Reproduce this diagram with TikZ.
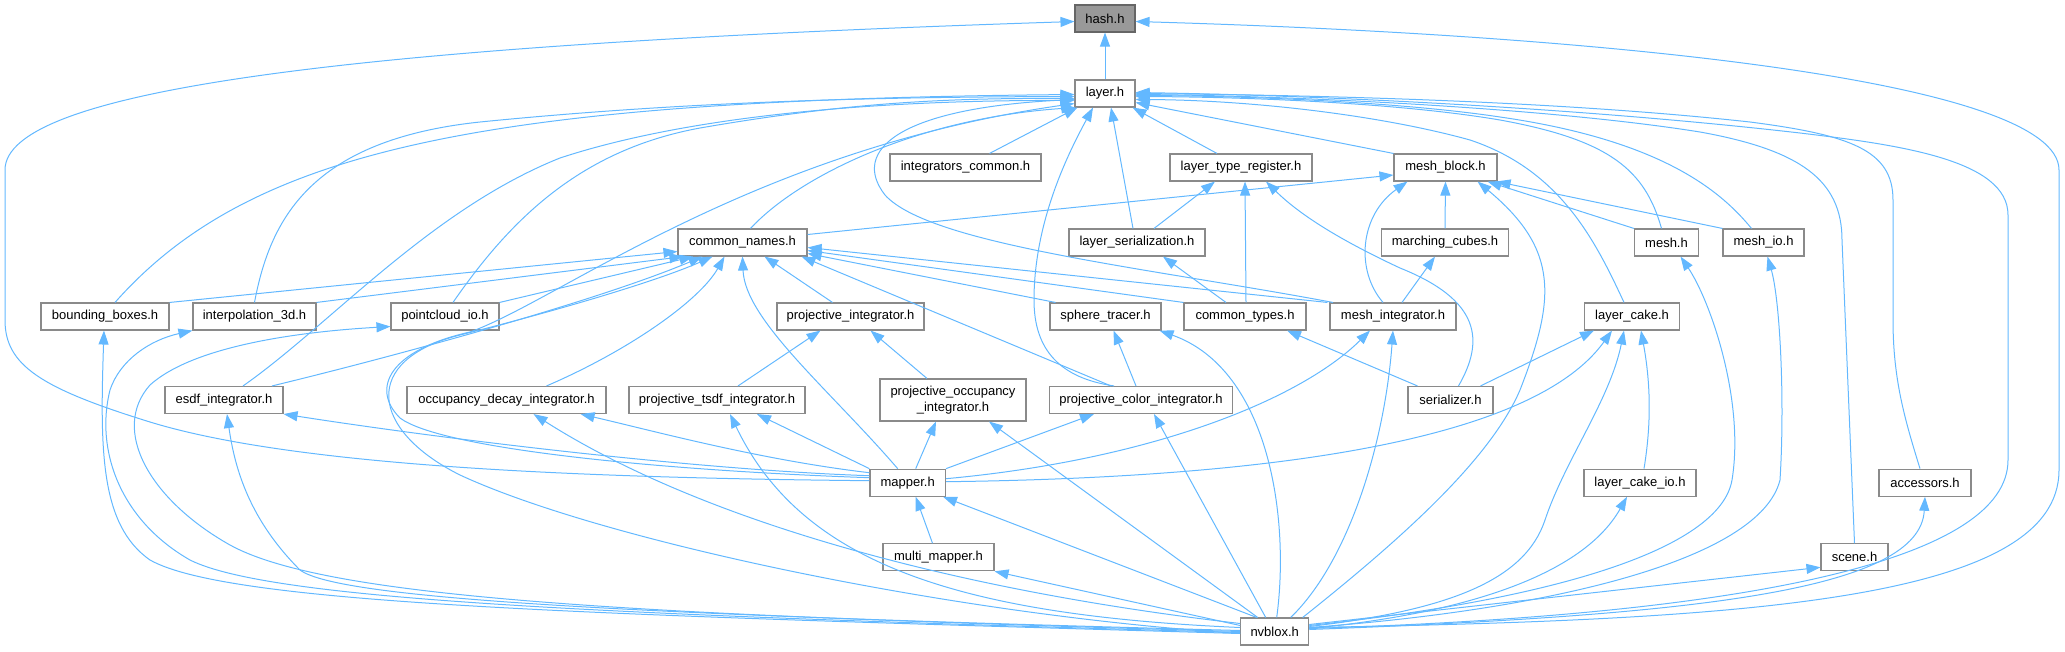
\documentclass[tikz,border=0pt]{standalone}
\usepackage{fontspec}
\setmainfont{Liberation Sans}
\usetikzlibrary{arrows.meta}
\definecolor{edgeblue}{HTML}{63B8FF}
\definecolor{boxgray}{HTML}{8A8A8A}
\definecolor{hashfill}{HTML}{999999}
\definecolor{hashborder}{HTML}{666666}
\tikzset{
  box/.style={draw=boxgray, fill=white, line width=1.1pt, minimum height=27pt, inner sep=0pt,
    font=\fontsize{13}{16}\selectfont, align=center},
  edge/.style={draw=edgeblue, line width=1pt, -{Triangle[length=14pt,width=10pt]}, fill=none},
}
\begin{document}
\begin{tikzpicture}[x=1pt,y=-1pt]
\useasboundingbox (0,0) rectangle (2065,651);
% ---------------- nodes ----------------
\node[box, minimum width=60pt, fill=hashfill, draw=hashborder] (hash) at (1105,18.5) {hash.h};
\node[box, minimum width=60pt] (layer) at (1105,93.5) {layer.h};
\node[box, minimum width=151pt] (integrators_common) at (965.5,167.5) {integrators\_common.h};
\node[box, minimum width=142pt] (layer_type_register) at (1241,167.5) {layer\_type\_register.h};
\node[box, minimum width=103pt] (mesh_block) at (1445.5,167.5) {mesh\_block.h};
\node[box, minimum width=129pt] (common_names) at (742.5,242.5) {common\_names.h};
\node[box, minimum width=136pt] (layer_serialization) at (1137,242.5) {layer\_serialization.h};
\node[box, minimum width=127pt] (marching_cubes) at (1445,242.5) {marching\_cubes.h};
\node[box, minimum width=64pt] (mesh) at (1666.5,242.5) {mesh.h};
\node[box, minimum width=81pt] (mesh_io) at (1763.5,242.5) {mesh\_io.h};
\node[box, minimum width=128pt] (bounding_boxes) at (105,316.5) {bounding\_boxes.h};
\node[box, minimum width=123pt] (interpolation_3d) at (254.5,316.5) {interpolation\_3d.h};
\node[box, minimum width=108pt] (pointcloud_io) at (445,316.5) {pointcloud\_io.h};
\node[box, minimum width=147pt] (projective_integrator) at (850.5,316.5) {projective\_integrator.h};
\node[box, minimum width=111pt] (sphere_tracer) at (1105.5,316.5) {sphere\_tracer.h};
\node[box, minimum width=122pt] (common_types) at (1245,316.5) {common\_types.h};
\node[box, minimum width=126pt] (mesh_integrator) at (1393,316.5) {mesh\_integrator.h};
\node[box, minimum width=95pt] (layer_cake) at (1632,316.5) {layer\_cake.h};
\node[box, minimum width=118pt] (esdf_integrator) at (224,400) {esdf\_integrator.h};
\node[box, minimum width=199pt] (occupancy_decay_integrator) at (506.5,400) {occupancy\_decay\_integrator.h};
\node[box, minimum width=176pt] (projective_tsdf_integrator) at (717,400) {projective\_tsdf\_integrator.h};
\node[box, minimum width=146pt, minimum height=42pt] (projective_occupancy_integrator) at (953,400) {projective\_occupancy\\\_integrator.h};
\node[box, minimum width=183pt] (projective_color_integrator) at (1141,400) {projective\_color\_integrator.h};
\node[box, minimum width=85pt] (serializer) at (1450.5,400) {serializer.h};
\node[box, minimum width=75.5pt] (mapper) at (907.7,482.7) {mapper.h};
\node[box, minimum width=112pt] (layer_cake_io) at (1640,482.7) {layer\_cake\_io.h};
\node[box, minimum width=92pt] (accessors) at (1925,482.7) {accessors.h};
\node[box, minimum width=111pt] (multi_mapper) at (938.5,557.3) {multi\_mapper.h};
\node[box, minimum width=67pt] (scene) at (1854.5,557.3) {scene.h};
\node[box, minimum width=68pt] (nvblox) at (1274.7,631.5) {nvblox.h};
% ---------------- edges ----------------
% into hash
\draw[edge] (layer.north) -- (hash.south);
\draw[edge] ([yshift=2]mapper.west) .. controls (600,478) and (300,468) .. (150,422) .. controls (40,388) and (5,365) .. (5,320) -- (5,170) .. controls (5,90) and (350,45) .. ([yshift=-3]hash.west);
\draw[edge] ([yshift=4]nvblox.east) .. controls (1750,620) and (2059,600) .. (2059,470) -- (2059,170) .. controls (2059,80) and (1600,35) .. ([yshift=-3]hash.east);
% into layer
\draw[edge] ([xshift=24]integrators_common.north) -- ([xshift=3]layer.south west);
\draw[edge] ([xshift=-24]layer_type_register.north) -- ([xshift=-3]layer.south east);
\draw[edge] (mesh_block.north west) -- ([yshift=-9]layer.east);
\draw[edge] ([xshift=-4]layer_serialization.north) -- ([xshift=6]layer.south);
\draw[edge] ([xshift=8]common_names.north) .. controls (800,175) and (920,118) .. ([xshift=1]layer.south west);
\draw[edge] ([xshift=-27]projective_color_integrator.north) .. controls (1060,378) and (1034,350) .. (1034,300) .. controls (1034,220) and (1070,150) .. ([xshift=-12]layer.south);
\draw[edge] ([xshift=-60]mesh_integrator.north) .. controls (1150,268) and (930,245) .. (885,195) .. controls (850,150) and (900,108) .. ([yshift=-6]layer.west);
\draw[edge] ([xshift=10]bounding_boxes.north) .. controls (250,150) and (480,100) .. ([yshift=-1]layer.west);
\draw[edge] (interpolation_3d.north) .. controls (270,220) and (310,140) .. (480,122) .. controls (700,100) and (900,97) .. ([yshift=-3]layer.west);
\draw[edge] ([xshift=8]pointcloud_io.north) .. controls (510,220) and (580,150) .. (700,128) .. controls (850,102) and (950,98) .. ([yshift=-5]layer.west);
\draw[edge] ([xshift=19]esdf_integrator.north) .. controls (330,325) and (430,210) .. (560,158) .. controls (700,112) and (900,100) .. ([yshift=-7]layer.west);
\draw[edge] ([yshift=5]mapper.west) .. controls (650,470) and (440,448) .. (400,418) .. controls (370,388) and (390,350) .. (470,332) .. controls (560,300) and (750,150) .. ([yshift=-10]layer.west);
\draw[edge] ([xshift=-5]mesh.north) .. controls (1645,170) and (1610,140) .. (1500,120) .. controls (1400,103) and (1250,97) .. ([yshift=-3]layer.east);
\draw[edge] ([xshift=-12]mesh_io.north) .. controls (1720,190) and (1660,140) .. (1500,117) .. controls (1400,102) and (1250,96) .. ([yshift=-2]layer.east);
\draw[edge] ([xshift=-8]layer_cake.north) .. controls (1595,240) and (1560,170) .. (1470,140) .. controls (1380,115) and (1250,100) .. ([yshift=-6]layer.east);
\draw[edge] (scene.north) -- (1842,240) .. controls (1842,180) and (1800,150) .. (1700,132) .. controls (1550,108) and (1300,96) .. ([yshift=-1]layer.east);
\draw[edge] ([xshift=-5]accessors.north) .. controls (1905,420) and (1893,380) .. (1893,320) -- (1893,200) .. controls (1893,150) and (1850,135) .. (1750,122) .. controls (1550,100) and (1300,95) .. (layer.east);
\draw[edge] ([yshift=3]nvblox.east) .. controls (1750,615) and (2008,560) .. (2008,460) -- (2008,215) .. controls (2008,160) and (1900,145) .. (1800,133) .. controls (1600,110) and (1350,96) .. ([yshift=1]layer.east);
% into common_names
\draw[edge] ([yshift=-2]nvblox.west) .. controls (950,615) and (600,540) .. (460,475) .. controls (370,430) and (360,360) .. (460,335) .. controls (560,310) and (660,280) .. ([xshift=-30]common_names.south);
\draw[edge] ([xshift=-10]mapper.north) .. controls (830,390) and (745,320) .. (common_names.south);
\draw[edge] (bounding_boxes.north east) -- ([yshift=-9]common_names.west);
\draw[edge] (interpolation_3d.north east) -- ([xshift=6]common_names.south west);
\draw[edge] (pointcloud_io.north east) -- ([xshift=16]common_names.south west);
\draw[edge] ([xshift=48]esdf_integrator.north) .. controls (400,355) and (600,300) .. ([xshift=-40]common_names.south);
\draw[edge] ([xshift=40]occupancy_decay_integrator.north) .. controls (630,350) and (700,300) .. ([xshift=-18]common_names.south);
\draw[edge] ([xshift=-18]projective_integrator.north) -- ([xshift=22]common_names.south);
\draw[edge] ([xshift=-50]sphere_tracer.north) -- ([yshift=-11]common_names.east);
\draw[edge] (common_types.north west) -- ([yshift=-8]common_names.east);
\draw[edge] ([xshift=-2]mesh_integrator.north west) -- ([yshift=-5]common_names.east);
\draw[edge] ([xshift=-30]projective_color_integrator.north) -- ([xshift=-6]common_names.south east);
% common_names -> mesh_block
\draw[edge] ([yshift=8]common_names.east) -- ([yshift=-7.5]mesh_block.west);
% projective_integrator
\draw[edge] ([xshift=21]projective_tsdf_integrator.north) -- ([xshift=-30]projective_integrator.south);
\draw[edge] ([xshift=-26]projective_occupancy_integrator.north) -- ([xshift=20]projective_integrator.south);
% layer_serialization / layer_type_register / common_types
\draw[edge] ([xshift=-19]common_types.north) -- ([xshift=26]layer_serialization.south);
\draw[edge] ([xshift=1]common_types.north) -- ([xshift=4]layer_type_register.south);
\draw[edge] ([xshift=17]layer_serialization.north) -- ([xshift=-26]layer_type_register.south);
\draw[edge] ([xshift=8]serializer.north) .. controls (1485,340) and (1480,300) .. (1400,268) .. controls (1340,240) and (1300,215) .. ([xshift=25]layer_type_register.south);
\draw[edge] ([xshift=-33]serializer.north) -- ([xshift=42]common_types.south);
\draw[edge] ([xshift=30]serializer.north) -- ([xshift=-38]layer_cake.south);
% mesh_block / marching_cubes
\draw[edge] ([xshift=9]mesh_integrator.north) -- ([xshift=-10]marching_cubes.south);
\draw[edge] (marching_cubes.north) -- (mesh_block.south);
\draw[edge] ([xshift=-10]mesh_integrator.north) .. controls (1355,270) and (1360,215) .. ([xshift=-38]mesh_block.south);
\draw[edge] (mesh.north west) -- ([xshift=-10]mesh_block.south east);
\draw[edge] (mesh_io.north west) -- ([xshift=-1]mesh_block.south east);
\draw[edge] ([xshift=28]nvblox.north) .. controls (1400,540) and (1490,460) .. (1520,390) .. controls (1555,300) and (1560,250) .. ([xshift=-20]mesh_block.south east);
% mapper outgoing
\draw[edge] ([yshift=7]mapper.west) .. controls (700,470) and (450,440) .. (esdf_integrator.south east);
\draw[edge] ([yshift=10]mapper.west) .. controls (760,460) and (650,430) .. ([xshift=-26]occupancy_decay_integrator.south east);
\draw[edge] (mapper.north west) -- ([xshift=40]projective_tsdf_integrator.south);
\draw[edge] ([xshift=8]mapper.north) -- ([xshift=-17]projective_occupancy_integrator.south);
\draw[edge] (mapper.north east) -- ([xshift=-47]projective_color_integrator.south);
\draw[edge] ([yshift=4]mapper.east) .. controls (1150,460) and (1300,400) .. ([xshift=-23]mesh_integrator.south);
\draw[edge] ([yshift=1]mapper.east) .. controls (1250,478) and (1530,445) .. ([xshift=-20]layer_cake.south);
\draw[edge] ([xshift=-6]multi_mapper.north) -- ([xshift=8]mapper.south);
% sphere_tracer
\draw[edge] ([xshift=-5]projective_color_integrator.north) -- ([xshift=8]sphere_tracer.south);
% layer_cake_io
\draw[edge] ([xshift=4]layer_cake_io.north) .. controls (1652,420) and (1650,380) .. ([xshift=9]layer_cake.south);
% nvblox outgoing
\draw[edge] ([xshift=-18]nvblox.north) -- ([xshift=-3]mapper.south east);
\draw[edge] ([yshift=6]nvblox.west) -- (multi_mapper.south east);
\draw[edge] ([yshift=8]nvblox.west) .. controls (950,590) and (700,520) .. ([xshift=27]occupancy_decay_integrator.south);
\draw[edge] ([yshift=4]nvblox.west) .. controls (950,615) and (800,560) .. ([xshift=13]projective_tsdf_integrator.south);
\draw[edge] ([xshift=-17]nvblox.north) -- ([xshift=36]projective_occupancy_integrator.south);
\draw[edge] ([xshift=-9]nvblox.north) -- ([xshift=13]projective_color_integrator.south);
\draw[edge] ([xshift=2]nvblox.north) .. controls (1290,520) and (1270,370) .. ([xshift=-2]sphere_tracer.south east);
\draw[edge] ([xshift=16]nvblox.north) .. controls (1350,560) and (1385,440) .. (mesh_integrator.south);
\draw[edge] ([yshift=6]nvblox.east) .. controls (1550,600) and (1720,550) .. (1732,480) .. controls (1745,400) and (1710,300) .. ([xshift=14]mesh.south);
\draw[edge] ([yshift=4]nvblox.east) .. controls (1550,610) and (1760,560) .. (1780,480) .. controls (1785,400) and (1780,300) .. ([xshift=4]mesh_io.south);
\draw[edge] ([yshift=5]nvblox.east) .. controls (1450,610) and (1525,580) .. (1545,520) .. controls (1565,460) and (1610,400) .. ([xshift=-8]layer_cake.south);
\draw[edge] ([yshift=3]nvblox.east) .. controls (1450,615) and (1580,580) .. ([xshift=-13]layer_cake_io.south);
\draw[edge] ([yshift=7]nvblox.east) -- ([yshift=-10]scene.west);
\draw[edge] ([yshift=2]nvblox.east) .. controls (1700,615) and (1920,590) .. (accessors.south);
\draw[edge] ([yshift=-2]nvblox.west) .. controls (600,615) and (230,605) .. (150,560) .. controls (100,525) and (100,450) .. ([xshift=-1]bounding_boxes.south);
\draw[edge] ([yshift=-1]nvblox.west) .. controls (600,615) and (270,600) .. (190,560) .. controls (120,520) and (95,450) .. (110,390) .. controls (120,360) and (150,340) .. (interpolation_3d.south west);
\draw[edge] (nvblox.west) .. controls (650,615) and (330,600) .. (230,545) .. controls (150,500) and (110,430) .. (150,385) .. controls (200,340) and (330,330) .. ([yshift=-10]pointcloud_io.west);
\draw[edge] ([yshift=1]nvblox.west) .. controls (650,615) and (340,600) .. (300,570) .. controls (250,520) and (235,470) .. ([xshift=3]esdf_integrator.south);
\end{tikzpicture}
\end{document}
